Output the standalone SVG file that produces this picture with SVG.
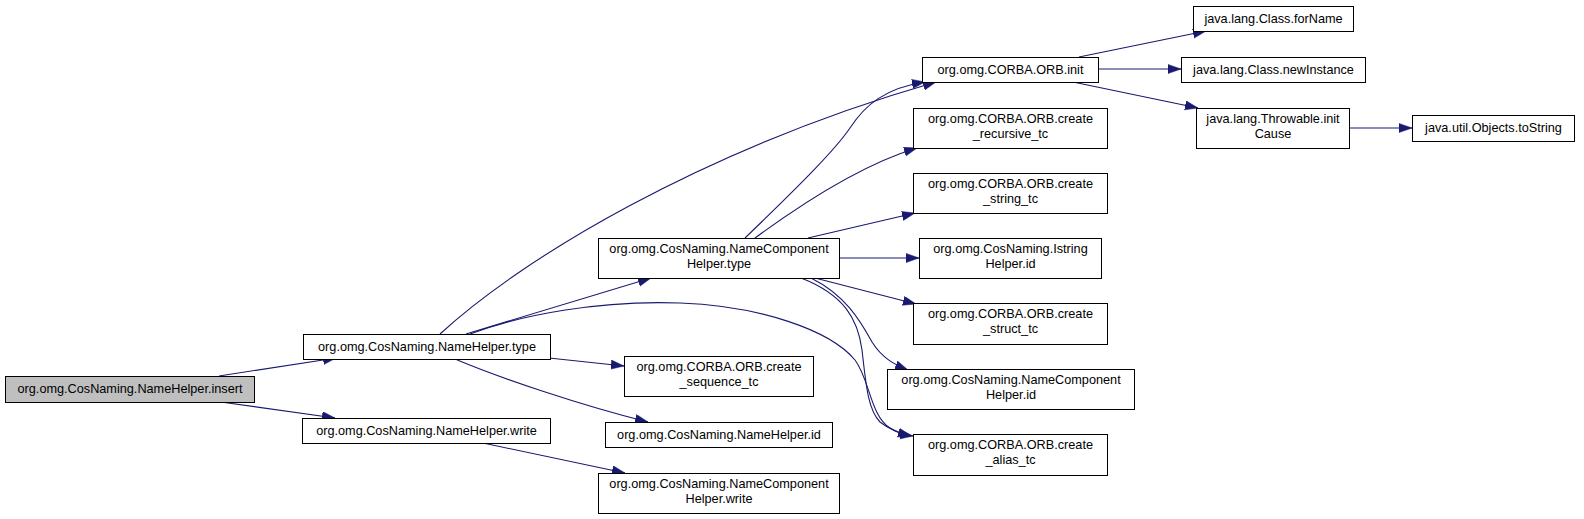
<svg xmlns="http://www.w3.org/2000/svg" width="1584" height="519" viewBox="0 0 1584 519">
<defs>
<style>
.node rect{fill:#ffffff;stroke:#000000;stroke-width:1}
.node.hl rect{fill:#bfbfbf}
.node text{font-family:"Liberation Sans",Arial,sans-serif;font-size:12.7px;fill:#000000;text-anchor:middle}
.edges path{fill:none;stroke:#191970;stroke-width:1.1}
</style>
<marker id="ah" markerUnits="userSpaceOnUse" markerWidth="14" markerHeight="10" refX="13" refY="4.6" orient="auto">
<path d="M0,0 L13,4.6 L0,9.2 Z" fill="#191970" stroke="#191970" stroke-width="0.5"/>
</marker>
</defs>
<rect x="0" y="0" width="1584" height="519" fill="#ffffff"/>
<g class="edges">
<path marker-end="url(#ah)" d="M219,376 L336,358"/>
<path marker-end="url(#ah)" d="M221,402 L335,418"/>
<path marker-end="url(#ah)" d="M466,334 L651,278"/>
<path marker-end="url(#ah)" d="M440,334 C520,260 700,150 936,82"/>
<path marker-end="url(#ah)" d="M470,334 C520,315 600,300 680,303 C760,306 830,330 855,360 C870,380 870,415 890,428 C898,433 905,435 913,436"/>
<path marker-end="url(#ah)" d="M549,358 L624,366"/>
<path marker-end="url(#ah)" d="M455,359 C500,378 580,405 648,422"/>
<path marker-end="url(#ah)" d="M745,238 C800,185 835,150 850,128 C865,105 885,88 925,82"/>
<path marker-end="url(#ah)" d="M755,238 C800,205 860,165 917,148"/>
<path marker-end="url(#ah)" d="M808,238 L915,213"/>
<path marker-end="url(#ah)" d="M839,258 L919,258"/>
<path marker-end="url(#ah)" d="M815,278 L916,304"/>
<path marker-end="url(#ah)" d="M811,278 C845,295 860,320 872,342 C882,358 895,365 908,370"/>
<path marker-end="url(#ah)" d="M801,278 C845,295 858,320 862,350 C866,385 868,410 880,422 C890,430 900,433 911,436"/>
<path marker-end="url(#ah)" d="M483,443 L625,473"/>
<path marker-end="url(#ah)" d="M1079,57 L1206,31"/>
<path marker-end="url(#ah)" d="M1098,69 L1181,69"/>
<path marker-end="url(#ah)" d="M1073,82 L1198,108"/>
<path marker-end="url(#ah)" d="M1349,128 L1412,128"/>
</g>
<g id="n_insert" class="node hl"><rect x="5.5" y="376.5" width="249" height="26"/><text x="130" y="393">org.omg.CosNaming.NameHelper.insert</text></g>
<g id="n_nh_type" class="node"><rect x="303.5" y="334.5" width="247" height="25"/><text x="427" y="351">org.omg.CosNaming.NameHelper.type</text></g>
<g id="n_nh_write" class="node"><rect x="302.5" y="418.5" width="248" height="25"/><text x="426.5" y="435">org.omg.CosNaming.NameHelper.write</text></g>
<g id="n_nch_type" class="node"><rect x="598.5" y="238.5" width="241" height="40"/><text x="719" y="253">org.omg.CosNaming.NameComponent</text><text x="719" y="268">Helper.type</text></g>
<g id="n_seq" class="node"><rect x="624.5" y="356.5" width="189" height="40"/><text x="719" y="371">org.omg.CORBA.ORB.create</text><text x="719" y="386">_sequence_tc</text></g>
<g id="n_nh_id" class="node"><rect x="605.5" y="422.5" width="227" height="25"/><text x="719" y="439">org.omg.CosNaming.NameHelper.id</text></g>
<g id="n_nch_write" class="node"><rect x="598.5" y="473.5" width="241" height="40"/><text x="719" y="488">org.omg.CosNaming.NameComponent</text><text x="719" y="503">Helper.write</text></g>
<g id="n_init" class="node"><rect x="922.5" y="57.5" width="176" height="25"/><text x="1010.5" y="74">org.omg.CORBA.ORB.init</text></g>
<g id="n_recursive" class="node"><rect x="913.5" y="108.5" width="194" height="40"/><text x="1010.5" y="123">org.omg.CORBA.ORB.create</text><text x="1010.5" y="138">_recursive_tc</text></g>
<g id="n_string" class="node"><rect x="913.5" y="173.5" width="194" height="40"/><text x="1010.5" y="188">org.omg.CORBA.ORB.create</text><text x="1010.5" y="203">_string_tc</text></g>
<g id="n_istring" class="node"><rect x="919.5" y="238.5" width="182" height="40"/><text x="1010.5" y="253">org.omg.CosNaming.Istring</text><text x="1010.5" y="268">Helper.id</text></g>
<g id="n_struct" class="node"><rect x="913.5" y="303.5" width="194" height="41"/><text x="1010.5" y="318">org.omg.CORBA.ORB.create</text><text x="1010.5" y="333">_struct_tc</text></g>
<g id="n_nch_id" class="node"><rect x="887.5" y="369.5" width="247" height="40"/><text x="1011" y="384">org.omg.CosNaming.NameComponent</text><text x="1011" y="399">Helper.id</text></g>
<g id="n_alias" class="node"><rect x="913.5" y="434.5" width="194" height="41"/><text x="1010.5" y="449">org.omg.CORBA.ORB.create</text><text x="1010.5" y="464">_alias_tc</text></g>
<g id="n_forname" class="node"><rect x="1193.5" y="6.5" width="160" height="25"/><text x="1273.5" y="23">java.lang.Class.forName</text></g>
<g id="n_newinstance" class="node"><rect x="1181.5" y="57.5" width="184" height="25"/><text x="1273.5" y="74">java.lang.Class.newInstance</text></g>
<g id="n_initcause" class="node"><rect x="1196.5" y="108.5" width="153" height="40"/><text x="1273" y="123">java.lang.Throwable.init</text><text x="1273" y="138">Cause</text></g>
<g id="n_tostring" class="node"><rect x="1412.5" y="115.5" width="162" height="26"/><text x="1493.5" y="132">java.util.Objects.toString</text></g>
</svg>
